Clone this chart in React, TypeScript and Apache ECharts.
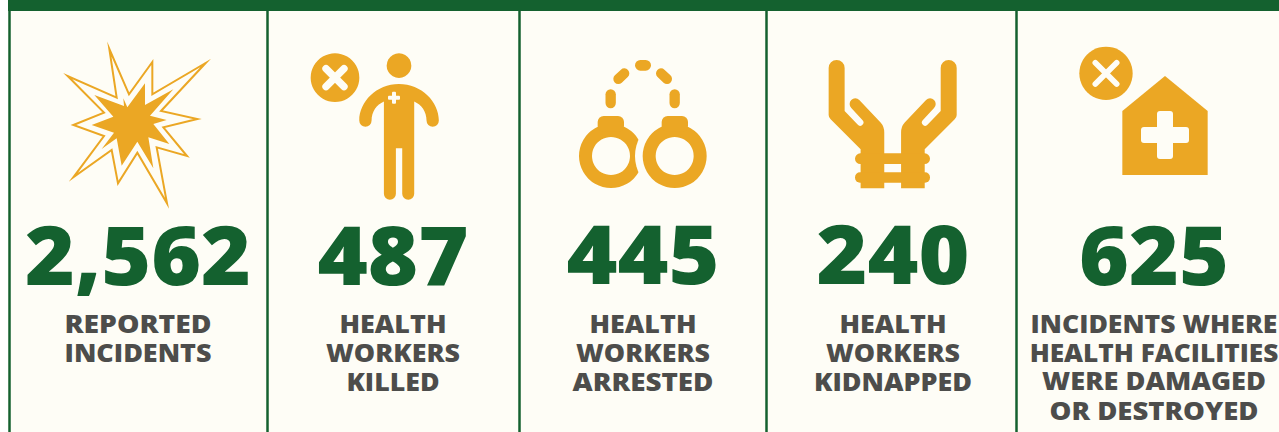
import React, { useEffect, useRef } from "react";
import * as echarts from "echarts";

const values = ["2,562", "487", "445", "240", "625"];
const labels = [
  ["REPORTED", "INCIDENTS"],
  ["HEALTH", "WORKERS", "KILLED"],
  ["HEALTH", "WORKERS", "ARRESTED"],
  ["HEALTH", "WORKERS", "KIDNAPPED"],
  ["INCIDENTS WHERE", "HEALTH FACILITIES", "WERE DAMAGED", "OR DESTROYED"],
];
const centers = [138, 393, 643, 893, 1154];
const dividers = [9.5, 267.5, 519.5, 766.5, 1016.5];
const valueWidths = [226, 151, 153, 153, 150];
const labelWidths = [
  [147, 147],
  [107, 134, 93],
  [107, 134, 141],
  [107, 134, 158],
  [247, 249, 224, 209],
];

const GREEN = "#14612f";
const GOLD = "#eba724";
const CREAM = "#fefdf6";
const GREY = "#4d4d4b";

const personD =
  "M327 132C395 132 447 185 447 242A18.5 18.5 0 0 1 410 242C410 215 395 195 373 185L373 462A18 18 0 0 1 337 462L337 325L318 325L318 462A18 18 0 0 1 282 462L282 185C260 195 245 215 245 242A18.5 18.5 0 0 1 208 242C208 185 260 132 327 132Z";
const handD =
  "M56 54A24 24 0 0 1 104 54L104 183L143 224A9 9 0 0 0 158 211L124 174A16 16 0 0 1 148 150L212 218Q223 230 223 248L223 415L152 415L152 298L62 208Q56 202 56 195Z";
echarts.graphic.registerShape("personBody", echarts.graphic.extendPath(personD, {}));
echarts.graphic.registerShape("handShape", echarts.graphic.extendPath(handD, {}));

const pts = (raw: number[][], ox: number, oy: number) =>
  raw.map(([x, y]) => [ox + x / 3, oy + y / 3]);

const blastOuter = [[328,147],[387,283],[457,186],[457,283],[617,189],[483,333],[592,357],[490,382],[561,468],[470,442],[501,610],[412,458],[354,550],[335,450],[220,532],[312,408],[220,375],[312,338],[203,228],[350,293]];
const blastInner = [[283,285],[372,318],[370,295],[382,322],[435,250],[435,315],[520,268],[450,347],[500,360],[460,372],[508,432],[445,412],[460,505],[412,425],[365,497],[350,415],[305,447],[342,398],[275,375],[340,350]];

function measure(text: string, size: number) {
  const ctx = document.createElement("canvas").getContext("2d")!;
  ctx.font = `800 ${size}px "Open Sans"`;
  return ctx.measureText(text).width;
}
function line(ox: number, oy: number, a: number[], color: string, w: number) {
  return {
    type: "line",
    shape: { x1: ox + a[0] / 3, y1: oy + a[1] / 3, x2: ox + a[2] / 3, y2: oy + a[3] / 3 },
    style: { stroke: color, lineWidth: w / 3, lineCap: "round" },
  };
}
function rrect(ox: number, oy: number, x0: number, y0: number, x1: number, y1: number, r: number, color = GOLD) {
  return {
    type: "rect",
    shape: { x: ox + x0 / 3, y: oy + y0 / 3, width: (x1 - x0) / 3, height: (y1 - y0) / 3, r: r / 3 },
    style: { fill: color },
  };
}
function circle(ox: number, oy: number, cx: number, cy: number, r: number, color = GOLD) {
  return { type: "circle", shape: { cx: ox + cx / 3, cy: oy + cy / 3, r: r / 3 }, style: { fill: color } };
}

function icons(): any[] {
  const out: any[] = [];
  out.push({ type: "polygon", shape: { points: pts(blastOuter, 0, 0) }, style: { fill: CREAM, stroke: GOLD, lineWidth: 2, lineJoin: "miter", miterLimit: 20 } });
  out.push({ type: "polygon", shape: { points: pts(blastInner, 0, 0) }, style: { fill: GOLD } });
  let ox = 290, oy = 40;
  out.push(circle(ox, oy, 135, 113, 73));
  out.push(line(ox, oy, [108, 86, 162, 140], CREAM, 22));
  out.push(line(ox, oy, [162, 86, 108, 140], CREAM, 22));
  out.push(circle(ox, oy, 327, 77, 37));
  out.push({ type: "personBody", x: ox, y: oy, scaleX: 1 / 3, scaleY: 1 / 3, style: { fill: GOLD } });
  out.push(rrect(ox, oy, 294, 167, 330, 179, 3, CREAM));
  out.push(rrect(ox, oy, 306, 155, 318, 191, 3, CREAM));
  ox = 560; oy = 50;
  out.push({ type: "ring", shape: { cx: ox + 153 / 3, cy: oy + 318 / 3, r: 96 / 3, r0: 57 / 3 }, style: { fill: GOLD } });
  out.push(circle(ox, oy, 344, 318, 119, CREAM));
  out.push({ type: "ring", shape: { cx: ox + 344 / 3, cy: oy + 318 / 3, r: 96 / 3, r0: 57 / 3 }, style: { fill: GOLD } });
  out.push(rrect(ox, oy, 113, 198, 192, 245, 18));
  out.push(rrect(ox, oy, 305, 198, 384, 245, 18));
  out.push(line(ox, oy, [152, 133, 152, 159], GOLD, 31));
  out.push(line(ox, oy, [344, 133, 344, 159], GOLD, 31));
  out.push(line(ox, oy, [241, 46, 257, 46], GOLD, 32));
  out.push(line(ox, oy, [175, 87, 193, 70], GOLD, 30));
  out.push(line(ox, oy, [303, 70, 321, 87], GOLD, 30));
  ox = 810; oy = 50;
  out.push({ type: "handShape", x: ox, y: oy, scaleX: 1 / 3, scaleY: 1 / 3, style: { fill: GOLD } });
  out.push({ type: "handShape", x: ox + 496 / 3, y: oy, scaleX: -1 / 3, scaleY: 1 / 3, style: { fill: GOLD } });
  out.push(rrect(ox, oy, 135, 310, 360, 342, 16));
  out.push(rrect(ox, oy, 135, 367, 360, 398, 15));
  ox = 1060; oy = 35;
  out.push(circle(ox, oy, 138, 115, 80));
  out.push(line(ox, oy, [106, 83, 170, 147], CREAM, 17));
  out.push(line(ox, oy, [170, 83, 106, 147], CREAM, 17));
  out.push({ type: "polygon", shape: { points: pts([[315,123],[443,228],[443,420],[187,420],[187,228]], ox, oy) }, style: { fill: GOLD } });
  out.push(rrect(ox, oy, 243, 276, 387, 324, 9, CREAM));
  out.push(rrect(ox, oy, 291, 228, 339, 372, 9, CREAM));
  return out;
}

function texts(): any[] {
  const out: any[] = [];
  values.forEach((v, i) => {
    out.push({
      type: "text", x: centers[i], y: 253, scaleX: valueWidths[i] / measure(v, 81),
      style: { text: v, x: 0, y: 0, textAlign: "center", textVerticalAlign: "middle", fill: GREEN, fontFamily: "Open Sans", fontWeight: 800, fontSize: 81, lineHeight: 81 },
    });
    labels[i].forEach((t, j) => {
      out.push({
        type: "text", x: centers[i], y: 323.5 + j * 29, scaleX: labelWidths[i][j] / measure(t, 24),
        style: { text: t, x: 0, y: 0, textAlign: "center", textVerticalAlign: "middle", fill: GREY, fontFamily: "Open Sans", fontWeight: 800, fontSize: 24, lineHeight: 24 },
      });
    });
  });
  return out;
}

export default function App() {
  const ref = useRef<HTMLDivElement>(null);
  useEffect(() => {
    document.body.style.margin = "0";
    const chart = echarts.init(ref.current!, undefined, { renderer: "svg" });
    chart.setOption({
      animation: false,
      backgroundColor: "#ffffff",
      graphic: {
        elements: [
          { type: "rect", shape: { x: 8, y: 0, width: 1271, height: 432 }, style: { fill: CREAM } },
          ...dividers.map((x) => ({ type: "rect", shape: { x: x - 1.25, y: 0, width: 2.5, height: 432 }, style: { fill: GREEN } })),
          { type: "rect", shape: { x: 8, y: 0, width: 1271, height: 11 }, style: { fill: GREEN } },
          ...icons(),
          ...texts(),
        ],
      },
    });
    return () => chart.dispose();
  }, []);
  return <div ref={ref} style={{ position: "absolute", left: 0, top: 0, width: 1279, height: 432 }} />;
}
